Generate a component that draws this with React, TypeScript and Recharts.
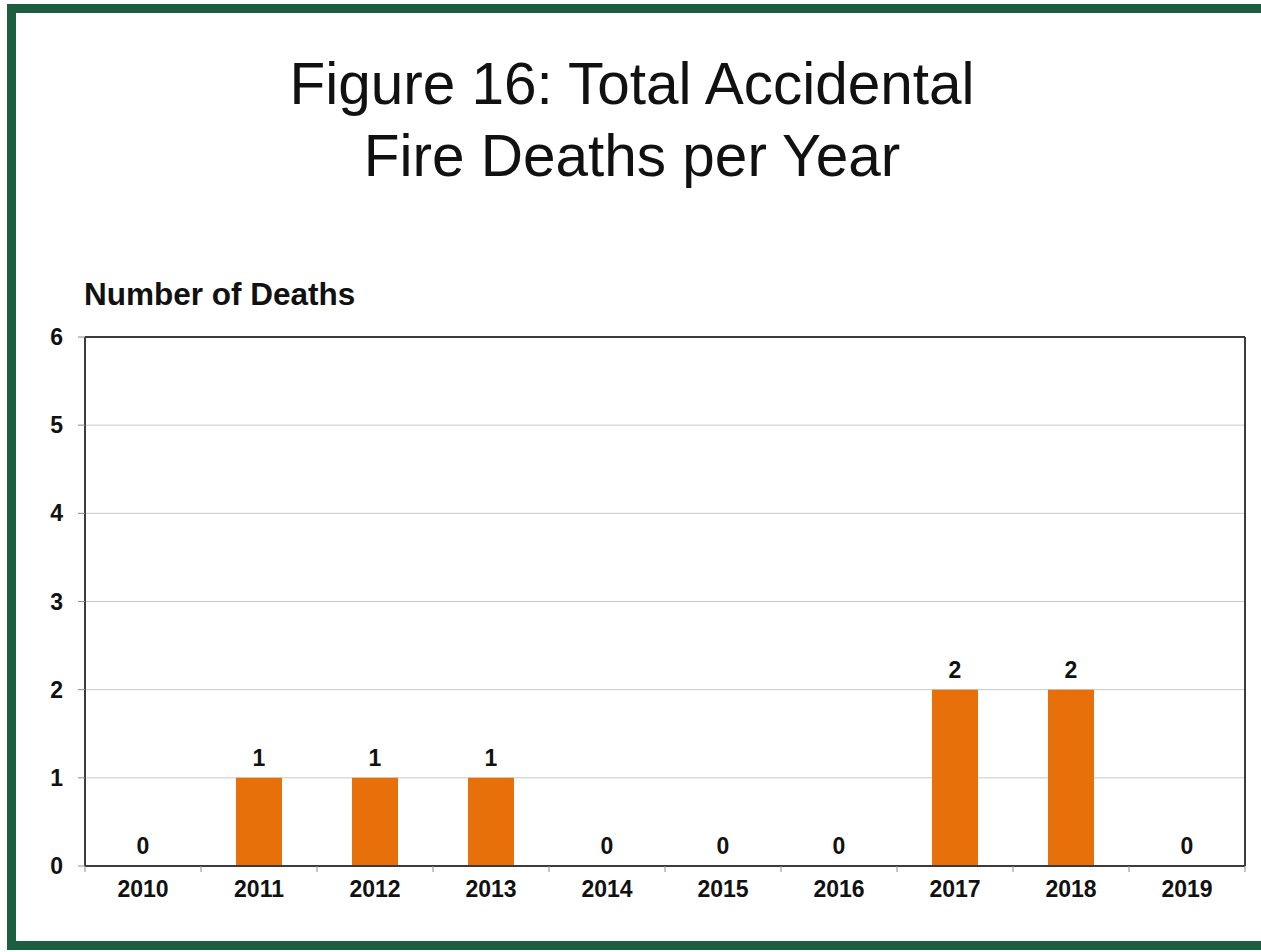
import { Bar, BarChart, CartesianGrid, LabelList, Line, XAxis, YAxis, ComposedChart } from "recharts";

const years = ["2010", "2011", "2012", "2013", "2014", "2015", "2016", "2017", "2018", "2019"];
const deaths = [0, 1, 1, 1, 0, 0, 0, 2, 2, 0];
const yTicks = [0, 1, 2, 3, 4, 5, 6];

const titleLines = ["Figure 16: Total Accidental", "Fire Deaths per Year"];
const yTitle = "Number of Deaths";

const font = "'Liberation Sans', Arial, sans-serif";
const barColor = "#e8700a";
const frameColor = "#1b5e40";
const axisColor = "#3c3c3c";

const data = years.map((year, i) => ({ year, deaths: deaths[i] }));

// tick lines sit on category boundaries, not centres
function YearTick(props: any) {
  const { x, y, payload } = props;
  const half = payload?.offset ?? 0;
  const axisY = y - 15;
  const isLast = payload?.value === years[years.length - 1];
  return (
    <g>
      <line x1={x - half} x2={x - half} y1={axisY} y2={axisY + 6} stroke="#8a8a8a" />
      {isLast ? <line x1={x + half} x2={x + half} y1={axisY} y2={axisY + 6} stroke="#8a8a8a" /> : null}
      <text
        x={x}
        y={y}
        dy="0.71em"
        textAnchor="middle"
        fill="#111"
        fontSize={23}
        fontWeight="bold"
        fontFamily={font}
      >
        {payload.value}
      </text>
    </g>
  );
}

export default function App() {
  return (
    <div
      style={{
        position: "absolute",
        left: 0,
        top: 0,
        width: 1261,
        height: 952,
        overflow: "hidden",
        background: "#fff",
        fontFamily: font
      }}
    >
      <div
        style={{
          position: "absolute",
          left: 7,
          top: 4,
          width: 1280,
          height: 928,
          border: `9px solid ${frameColor}`
        }}
      />
      <div
        style={{
          position: "absolute",
          left: 0,
          top: 48,
          width: 1264,
          textAlign: "center",
          fontSize: 58.5,
          lineHeight: "72px",
          color: "#111"
        }}
      >
        {titleLines.map((line) => (
          <div key={line}>{line}</div>
        ))}
      </div>
      <div
        style={{
          position: "absolute",
          left: 84,
          top: 279,
          fontSize: 31.5,
          lineHeight: "31px",
          fontWeight: "bold",
          color: "#111",
          whiteSpace: "nowrap"
        }}
      >
        {yTitle}
      </div>
      <div style={{ position: "absolute", left: 0, top: 0 }}>
        <ComposedChart
          width={1261}
          height={952}
          data={data}
          margin={{ top: 336, right: 15, bottom: 46, left: 25 }}
        >
          <CartesianGrid stroke="#c8c8c8" vertical={false} />
          <XAxis
            dataKey="year"
            height={40}
            tick={<YearTick />}
            tickLine={false}
            tickSize={6}
            tickMargin={9}
            interval={0}
            axisLine={{ stroke: axisColor, strokeWidth: 2 }}
          />
          <XAxis
            xAxisId="top"
            orientation="top"
            dataKey="year"
            height={1}
            tick={false}
            tickLine={false}
            axisLine={{ stroke: axisColor, strokeWidth: 2 }}
          />
          <YAxis
            width={60}
            domain={[0, 6]}
            ticks={yTicks}
            interval={0}
            tickSize={7}
            tickMargin={15}
            tickLine={{ stroke: "#8a8a8a" }}
            axisLine={{ stroke: axisColor, strokeWidth: 2 }}
            tick={{ fill: "#111", fontSize: 23, fontWeight: "bold", fontFamily: font }}
          />
          <YAxis
            yAxisId="right"
            orientation="right"
            width={1}
            domain={[0, 6]}
            tick={false}
            tickLine={false}
            axisLine={{ stroke: axisColor, strokeWidth: 2 }}
          />
          <Bar dataKey="deaths" fill={barColor} barSize={46} isAnimationActive={false} />
          {/* invisible line carries the value labels so zero years get one too */}
          <Line
            dataKey="deaths"
            stroke="none"
            dot={false}
            activeDot={false}
            legendType="none"
            isAnimationActive={false}
          >
            <LabelList
              dataKey="deaths"
              position="top"
              offset={12}
              fill="#111"
              fontSize={23}
              fontWeight="bold"
              fontFamily={font}
            />
          </Line>
        </ComposedChart>
      </div>
    </div>
  );
}
